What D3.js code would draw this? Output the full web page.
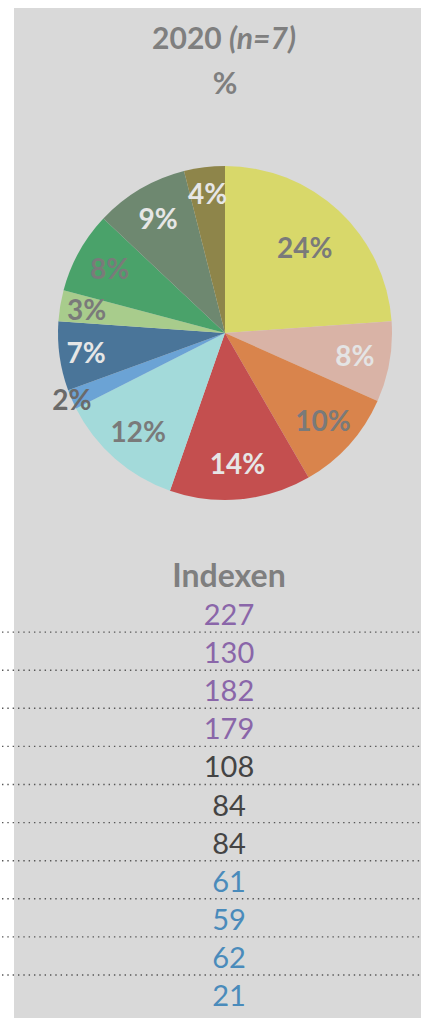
<!DOCTYPE html>
<html>
<head>
<meta charset="utf-8">
<script src="https://cdn.jsdelivr.net/npm/d3@7"></script>
<style>
  html, body { margin: 0; padding: 0; background: #ffffff; }
  svg { display: block; }
  text { font-family: Lato, "Open Sans", sans-serif; }
</style>
</head>
<body>
<div id="chart"></div>
<script>
// ---- data ----
const titleYear = "2020";
const titleN = "(n=7)";
const unitLabel = "%";
const sliceValues = [23.9, 7.8, 10.0, 13.7, 12.2, 1.9, 6.7, 3.0, 7.9, 9.05, 3.95];
const sliceColors = ["#d8d86a", "#d9b3a6", "#d9844c", "#c44f4f", "#a3dada", "#6ba3d5",
                     "#4a7599", "#a8cc8c", "#4aa26a", "#6e8870", "#8e854a"];
const sliceLabelColors = ["#7a7a7a", "#e4e4e4", "#7a7a7a", "#e6e6e6", "#7a7a7a", "#6a6a6a",
                          "#e6e6e6", "#7a7a7a", "#7a7a7a", "#e6e6e6", "#e6e6e6"];
const indexTitle = "Indexen";
const indexValues = [227, 130, 182, 179, 108, 84, 84, 61, 59, 62, 21];
const indexColors = ["#8a66a9", "#8a66a9", "#8a66a9", "#8a66a9", "#444444", "#444444",
                     "#444444", "#4a8bbb", "#4a8bbb", "#4a8bbb", "#4a8bbb"];

// ---- layout ----
const W = 421, H = 1018;
const svg = d3.select("#chart").append("svg").attr("width", W).attr("height", H);

svg.append("rect").attr("x", 14).attr("y", 8).attr("width", W - 14).attr("height", H - 8)
  .attr("fill", "#d9d9d9");

// title
const t = svg.append("text").attr("x", 224).attr("y", 49).attr("text-anchor", "middle")
  .attr("fill", "#7f7f7f").attr("font-size", 30).attr("font-weight", 700);
t.append("tspan").text(titleYear + " ");
t.append("tspan").attr("font-style", "italic").text(titleN);
svg.append("text").attr("x", 225).attr("y", 94).attr("text-anchor", "middle")
  .attr("fill", "#7f7f7f").attr("font-size", 30).attr("font-weight", 700).text(unitLabel);

// pie
const cx = 225, cy = 333, R = 167;
const pie = d3.pie().sort(null).value(d => d);
const arcs = pie(sliceValues);
const arc = d3.arc().innerRadius(0).outerRadius(R);
const g = svg.append("g").attr("transform", `translate(${cx},${cy})`);
g.selectAll("path").data(arcs).join("path")
  .attr("d", arc).attr("fill", (d, i) => sliceColors[i]);

const total = d3.sum(sliceValues);
function labelR(v) {
  const p = v / total * 100;
  if (p >= 20) return R * 0.70;
  if (p < 2.5) return R * 1.0;
  if (p < 7.5) return R * 0.84;
  return R * 0.79;
}
g.selectAll("text.lbl").data(arcs).join("text").attr("class", "lbl")
  .attr("transform", d => {
    const r = labelR(d.value);
    const c = d3.arc().innerRadius(r).outerRadius(r).centroid(d);
    return `translate(${c[0]},${c[1]})`;
  })
  .attr("text-anchor", "middle").attr("dy", "0.36em")
  .attr("font-size", 28).attr("font-weight", 700)
  .attr("fill", (d, i) => sliceLabelColors[i])
  .text(d => Math.round(d.value / total * 100) + "%");

// index table
const colX = 229;
svg.append("text").attr("x", colX).attr("y", 587).attr("text-anchor", "middle")
  .attr("fill", "#7f7f7f").attr("font-size", 32).attr("font-weight", 700).text(indexTitle);

const rowH = 38.1;
const y = d3.scaleBand().domain(d3.range(indexValues.length))
  .range([594, 594 + rowH * indexValues.length]).padding(0);

svg.selectAll("line.sep").data(d3.range(indexValues.length - 1)).join("line")
  .attr("class", "sep")
  .attr("x1", 2).attr("x2", W)
  .attr("y1", i => y(i) + y.bandwidth()).attr("y2", i => y(i) + y.bandwidth())
  .attr("stroke", "#555").attr("stroke-width", 1.4).attr("stroke-dasharray", "1.4,3.93");

svg.selectAll("text.idx").data(indexValues).join("text").attr("class", "idx")
  .attr("x", colX).attr("y", (d, i) => y(i) + 31)
  .attr("text-anchor", "middle").attr("font-size", 29)
  .attr("fill", (d, i) => indexColors[i]).text(d => d);
</script>
</body>
</html>
